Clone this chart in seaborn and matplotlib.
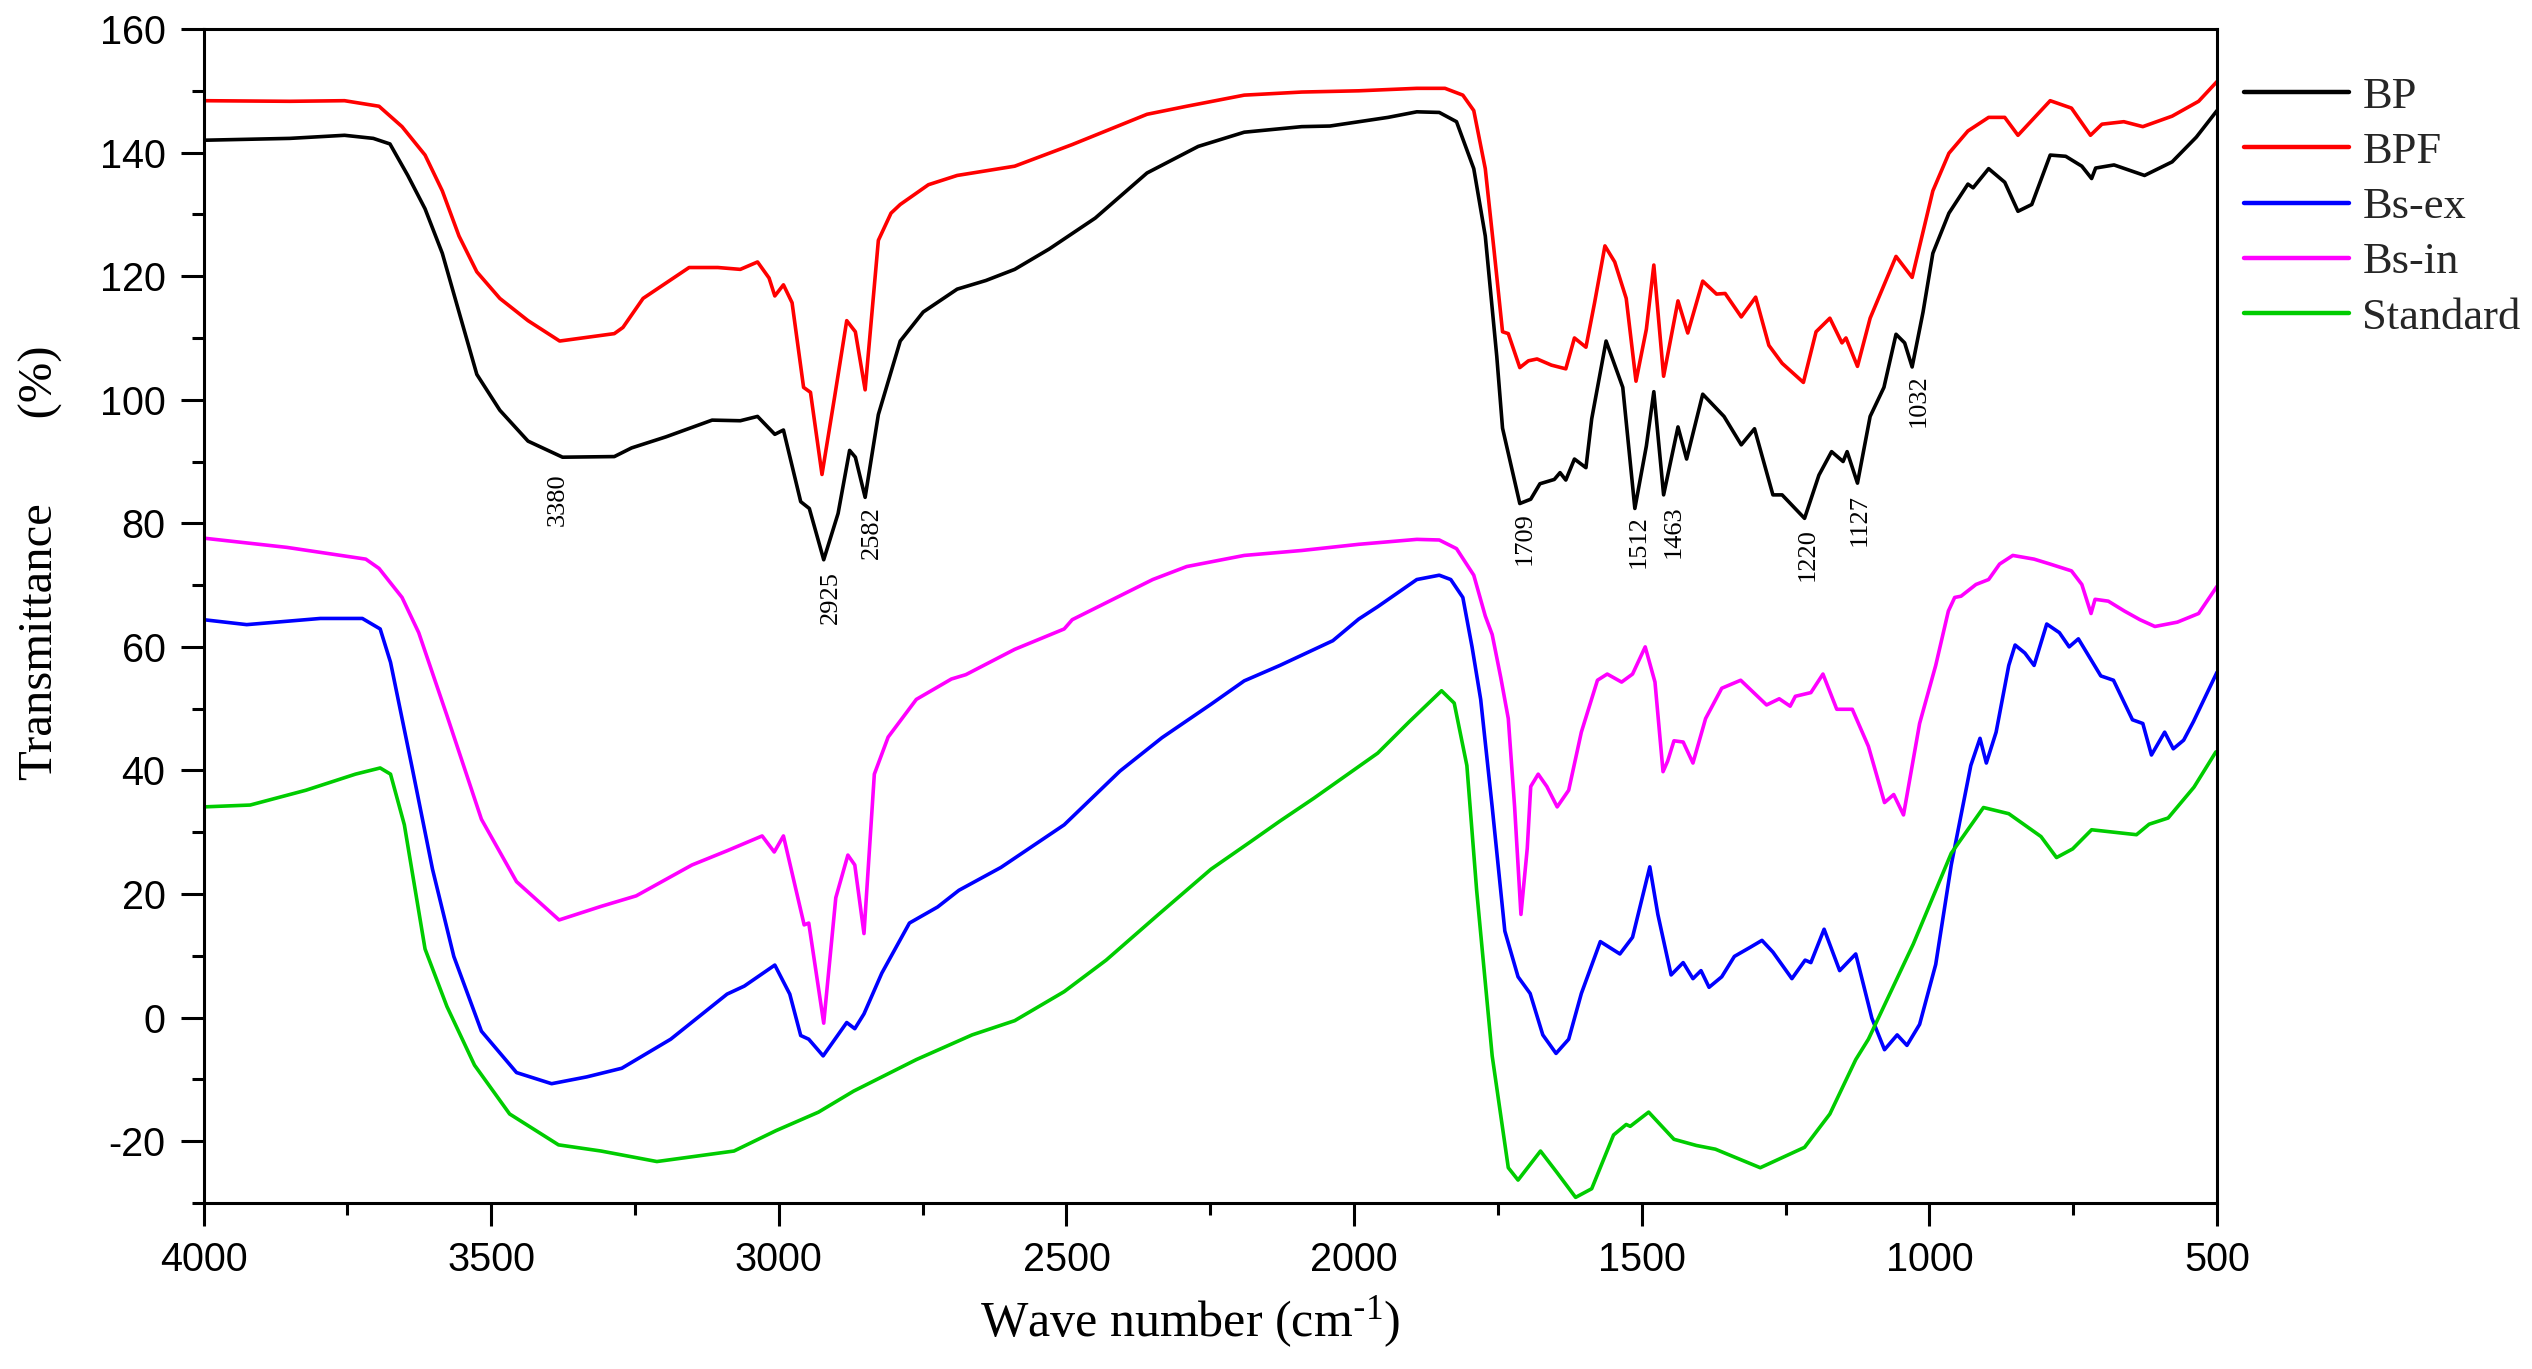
import numpy as np
import pandas as pd
import matplotlib
matplotlib.use("Agg")
import matplotlib.pyplot as plt
import seaborn as sns
from matplotlib.ticker import MultipleLocator

# ---- FTIR spectra (wave number, transmittance %) ----
bp_wn = [4000, 3900, 3850, 3755, 3705, 3676, 3645, 3615, 3585, 3556, 3525, 3485, 3436, 3376,
         3286, 3256, 3196, 3116, 3067, 3037, 3007, 2992, 2962, 2947, 2922, 2897, 2877, 2867,
         2850, 2827, 2789, 2749, 2690, 2640, 2590, 2530, 2450, 2360, 2271, 2191, 2091, 2042,
         1941, 1891, 1852, 1822, 1792, 1772, 1752, 1742, 1712, 1693, 1677, 1652, 1642, 1632,
         1617, 1597, 1587, 1562, 1533, 1512, 1492, 1479, 1462, 1437, 1422, 1394, 1357, 1327,
         1304, 1272, 1256, 1217, 1192, 1170, 1150, 1143, 1125, 1103, 1079, 1058, 1043, 1030,
         1011, 994, 966, 933, 924, 897, 869, 846, 822, 790, 763, 735, 718, 711, 679, 626,
         578, 536, 500]
bp_t = [142.0, 142.2, 142.3, 142.8, 142.3, 141.4, 136.3, 130.9, 123.7, 114.2, 104.1, 98.3, 93.3, 90.7,
        90.8, 92.2, 94.0, 96.7, 96.6, 97.3, 94.4, 95.1, 83.5, 82.4, 74.1, 81.6, 91.8, 90.7,
        84.2, 97.6, 109.5, 114.2, 117.9, 119.3, 121.1, 124.4, 129.4, 136.7, 141.0, 143.3, 144.2, 144.3,
        145.7, 146.6, 146.5, 145.0, 137.4, 126.5, 107.0, 95.4, 83.2, 83.9, 86.4, 87.1, 88.2, 87.0,
        90.4, 89.0, 96.9, 109.5, 102.0, 82.4, 92.5, 101.3, 84.6, 95.6, 90.4, 100.9, 97.3, 92.7,
        95.3, 84.6, 84.6, 80.8, 87.8, 91.6, 90.0, 91.6, 86.5, 97.3, 102.0, 110.6, 109.2, 105.3,
        114.2, 123.7, 130.2, 134.9, 134.3, 137.4, 135.2, 130.5, 131.6, 139.6, 139.4, 137.8, 135.8, 137.5, 138.0, 136.3,
        138.5, 142.5, 146.8]

bpf_wn = [4000, 3850, 3755, 3695, 3655, 3615, 3585, 3556, 3525, 3485, 3436, 3381, 3286, 3271,
          3236, 3156, 3106, 3067, 3037, 3017, 3007, 2992, 2977, 2957, 2945, 2925, 2903, 2882,
          2867, 2850, 2827, 2805, 2789, 2740, 2690, 2590, 2490, 2360, 2291, 2191, 2091, 1992,
          1891, 1842, 1811, 1792, 1772, 1757, 1742, 1732, 1712, 1697, 1682, 1657, 1632, 1617,
          1597, 1582, 1564, 1547, 1527, 1510, 1492, 1479, 1462, 1437, 1420, 1394, 1370, 1355,
          1327, 1302, 1279, 1256, 1219, 1197, 1173, 1152, 1145, 1125, 1103, 1058, 1030, 994,
          966, 933, 897, 869, 846, 790, 753, 720, 700, 662, 629, 578, 532, 500]
bpf_t = [148.4, 148.3, 148.4, 147.5, 144.2, 139.6, 133.8, 126.5, 120.7, 116.4, 112.8, 109.5, 110.7, 111.7,
         116.4, 121.4, 121.4, 121.1, 122.3, 119.7, 116.8, 118.6, 115.7, 102.0, 101.2, 87.9, 100.5, 112.8,
         111.0, 101.6, 125.8, 130.2, 131.6, 134.8, 136.3, 137.8, 141.3, 146.2, 147.5, 149.3, 149.8, 150.0,
         150.4, 150.4, 149.3, 146.8, 137.4, 124.4, 111.0, 110.7, 105.2, 106.3, 106.6, 105.6, 105.0, 110.0,
         108.5, 115.7, 124.9, 122.3, 116.4, 103.0, 111.4, 121.8, 103.8, 116.0, 110.8, 119.2, 117.1, 117.2,
         113.4, 116.6, 108.8, 105.9, 102.8, 111.0, 113.2, 109.2, 110.0, 105.4, 113.2, 123.2, 119.8, 133.8,
         139.9, 143.5, 145.7, 145.7, 142.8, 148.4, 147.2, 142.8, 144.6, 145.0, 144.2, 145.9, 148.3, 151.5]

bsex_wn = [4000, 3925, 3797, 3724, 3693, 3675, 3638, 3602, 3565, 3517, 3456, 3395, 3334, 3273,
           3188, 3090, 3060, 3007, 2981, 2962, 2948, 2923, 2882, 2868, 2852, 2821, 2773, 2724,
           2687, 2614, 2504, 2407, 2334, 2249, 2191, 2129, 2037, 1992, 1959, 1891, 1852, 1832,
           1811, 1795, 1780, 1760, 1738, 1715, 1694, 1672, 1649, 1627, 1605, 1572, 1538, 1516,
           1486, 1472, 1449, 1428, 1411, 1397, 1383, 1361, 1339, 1311, 1291, 1272, 1239, 1216,
           1206, 1183, 1156, 1128, 1100, 1078, 1056, 1039, 1017, 989, 962, 928, 912, 901,
           884, 862, 851, 834, 818, 796, 774, 757, 741, 702, 680, 647, 629, 614, 591, 576,
           558, 541, 500]
bsex_t = [64.4, 63.6, 64.6, 64.6, 62.9, 57.5, 40.7, 24.0, 9.9, -2.2, -8.9, -10.7, -9.6, -8.2,
          -3.5, 3.8, 5.1, 8.5, 3.8, -2.9, -3.5, -6.2, -0.8, -1.8, 0.6, 7.2, 15.3, 17.9,
          20.6, 24.3, 31.2, 39.9, 45.3, 50.7, 54.5, 57.0, 61.0, 64.5, 66.5, 70.9, 71.6, 70.9,
          68.0, 60.0, 51.5, 34.1, 14.0, 6.6, 3.9, -2.8, -5.8, -3.5, 3.9, 12.3, 10.3, 13.0,
          24.4, 16.7, 6.9, 8.9, 6.3, 7.6, 4.9, 6.6, 9.9, 11.4, 12.5, 10.6, 6.3, 9.3,
          8.9, 14.3, 7.6, 10.3, -0.1, -5.2, -2.8, -4.5, -1.1, 8.6, 24.7, 40.8, 45.2, 41.2,
          46.2, 57.0, 60.3, 59.0, 57.0, 63.7, 62.3, 60.0, 61.3, 55.3, 54.6, 48.2, 47.6, 42.5, 46.2, 43.5,
          44.9, 47.9, 55.9]

bsin_wn = [4000, 3855, 3718, 3695, 3655, 3626, 3577, 3517, 3456, 3382, 3309, 3248, 3151, 3090,
           3029, 3008, 2992, 2956, 2948, 2922, 2901, 2880, 2868, 2852, 2834, 2810, 2761, 2700,
           2675, 2590, 2504, 2490, 2419, 2350, 2291, 2191, 2091, 1992, 1891, 1852, 1822, 1792,
           1772, 1760, 1745, 1732, 1721, 1710, 1699, 1693, 1680, 1665, 1647, 1627, 1605, 1577,
           1560, 1535, 1516, 1494, 1477, 1463, 1455, 1444, 1428, 1411, 1389, 1361, 1328, 1283,
           1261, 1242, 1233, 1206, 1185, 1161, 1134, 1106, 1078, 1062, 1045, 1017, 989, 967,
           956, 945, 919, 897, 878, 855, 818, 790, 753, 735, 719, 712, 689, 661, 634, 608,
           569, 532, 500]
bsin_t = [77.6, 76.1, 74.2, 72.7, 68.0, 62.3, 48.9, 32.1, 22.0, 15.8, 18.0, 19.7, 24.7, 27.0,
          29.4, 26.8, 29.4, 15.0, 15.3, -0.9, 19.4, 26.3, 24.7, 13.6, 39.4, 45.4, 51.5, 54.8,
          55.5, 59.6, 62.9, 64.4, 67.7, 70.9, 73.0, 74.8, 75.6, 76.6, 77.4, 77.3, 75.9, 71.6,
          65.0, 62.0, 55.0, 48.4, 34.1, 16.7, 27.4, 37.4, 39.4, 37.4, 34.1, 36.8, 46.2, 54.6,
          55.6, 54.3, 55.6, 60.0, 54.3, 39.8, 41.5, 44.8, 44.6, 41.2, 48.4, 53.3, 54.6, 50.6,
          51.6, 50.4, 52.0, 52.6, 55.6, 49.9, 49.9, 43.9, 34.8, 36.1, 32.8, 47.6, 57.0, 65.8,
          68.0, 68.2, 70.1, 70.9, 73.4, 74.8, 74.2, 73.4, 72.3, 70.1, 65.4, 67.7, 67.4, 65.8, 64.4, 63.3,
          64.0, 65.4, 69.8]

std_wn = [4000, 3919, 3822, 3736, 3693, 3675, 3651, 3615, 3577, 3529, 3468, 3383, 3309, 3212,
          3078, 3005, 2931, 2870, 2761, 2664, 2590, 2504, 2431, 2340, 2249, 2181, 2129, 2070,
          1959, 1904, 1848, 1826, 1804, 1787, 1760, 1732, 1715, 1676, 1648, 1615, 1587, 1549,
          1527, 1520, 1488, 1444, 1405, 1372, 1294, 1217, 1173, 1128, 1106, 1028, 962, 906,
          862, 806, 779, 751, 718, 640, 618, 585, 540, 502]
std_t = [34.1, 34.4, 36.8, 39.4, 40.4, 39.4, 31.2, 11.1, 1.8, -7.7, -15.6, -20.6, -21.6, -23.3,
         -21.6, -18.3, -15.3, -11.9, -6.8, -2.8, -0.5, 4.2, 9.3, 16.7, 24.0, 28.4, 31.8, 35.5,
         42.8, 47.9, 52.9, 50.9, 40.8, 20.6, -6.2, -24.3, -26.3, -21.6, -25.0, -29.1, -27.7, -19.0,
         -17.3, -17.6, -15.3, -19.7, -20.7, -21.3, -24.3, -21.0, -15.6, -6.8, -3.5, 11.9, 26.6, 34.0,
         33.0, 29.3, 25.9, 27.3, 30.4, 29.6, 31.3, 32.3, 37.3, 43.0]

samples = ["BP", "BPF", "Bs-ex", "Bs-in", "Standard"]
colors = ["#000000", "#FF0000", "#0000FF", "#FF00FF", "#00CC00"]

# peak labels on the BP spectrum
peak_text = ["3380", "2925", "2582", "1709", "1512", "1463", "1220", "1127", "1032"]
peak_x = [3384, 2909, 2838, 1703, 1506, 1445, 1212, 1121, 1018]
peak_y = [83.9, 68.0, 78.5, 77.6, 77.0, 78.6, 75.0, 80.6, 99.8]

frames = []
for name, wn, t in zip(samples, [bp_wn, bpf_wn, bsex_wn, bsin_wn, std_wn],
                       [bp_t, bpf_t, bsex_t, bsin_t, std_t]):
    frames.append(pd.DataFrame({"wn": wn, "T": t, "sample": name}))
df = pd.concat(frames, ignore_index=True)

sns.set_theme(style="ticks")
plt.rcParams["font.family"] = ["Liberation Serif", "DejaVu Serif"]
plt.rcParams["mathtext.default"] = "regular"
plt.rcParams["axes.unicode_minus"] = False

fig, ax = plt.subplots(figsize=(25.32, 13.69), dpi=100)
fig.subplots_adjust(left=0.0804, right=0.8756, top=0.9788, bottom=0.1213)

sns.lineplot(data=df, x="wn", y="T", hue="sample", hue_order=samples,
             palette=dict(zip(samples, colors)), sort=False, estimator=None,
             linewidth=2.6, ax=ax)

ax.set_xlim(4000, 500)
ax.set_ylim(-30, 160)
ax.xaxis.set_major_locator(MultipleLocator(500))
ax.xaxis.set_minor_locator(MultipleLocator(250))
ax.yaxis.set_minor_locator(MultipleLocator(10))
ax.set_yticks([-20, 0, 20, 40, 60, 80, 100, 120, 140, 160])

for sp in ax.spines.values():
    sp.set_linewidth(2.2)
    sp.set_color("black")

ax.tick_params(which="both", direction="out", top=False, right=False,
               width=2.2, color="black", labelsize=28.5,
               labelfontfamily="Liberation Sans", labelcolor="black")
ax.tick_params(which="major", length=16.5, pad=11)
ax.tick_params(which="minor", length=8.4)

ax.set_xlabel(r"Wave number (cm$^{\text{-}1}$)", fontsize=36, color="black")
ax.set_ylabel("Transmittance       (%)", fontsize=35, color="black")
ax.xaxis.set_label_coords(0.49, -0.078)
ax.yaxis.set_label_coords(-0.070, 0.545)

for txt, px, py in zip(peak_text, peak_x, peak_y):
    ax.text(px, py, txt, rotation=90, ha="center", va="center",
            fontsize=19, color="black")

handles, labels = ax.get_legend_handles_labels()
leg = ax.legend(handles, labels, loc="upper left", bbox_to_anchor=(0.8863, 0.944),
                bbox_transform=fig.transFigure, frameon=False, fontsize=32,
                handlelength=2.36, handletextpad=0.3, labelspacing=0.34,
                borderpad=0, borderaxespad=0)
for line in leg.get_lines():
    line.set_linewidth(3.2)

fig.savefig("out.png", dpi=100)
